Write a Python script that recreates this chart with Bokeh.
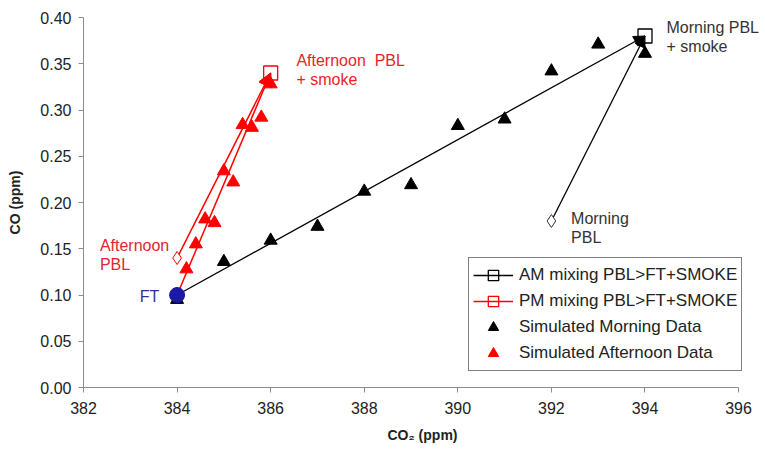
from bokeh.plotting import figure
from bokeh.models import (Range1d, Legend, LegendItem, Arrow, NormalHead, Label,
                          ColumnDataSource, FixedTicker, PrintfTickFormatter)
from bokeh.embed import file_html
from bokeh.resources import INLINE

# ---------------- data ----------------
x_ticks = [382, 384, 386, 388, 390, 392, 394, 396]
y_ticks = [0.00, 0.05, 0.10, 0.15, 0.20, 0.25, 0.30, 0.35, 0.40]

ft_co2 = [384.0]
ft_co = [0.10]

# end members: FT, PBL + smoke, PBL
am_mix_co2 = [384.0, 394.0, 392.0]
am_mix_co = [0.10, 0.38, 0.18]
pm_mix_co2 = [384.0, 386.0, 384.0]
pm_mix_co = [0.10, 0.34, 0.14]

am_sim_co2 = [384, 385, 386, 387, 388, 389, 390, 391, 392, 393, 394]
am_sim_co = [0.095, 0.136, 0.159, 0.174, 0.212, 0.219, 0.283, 0.290, 0.342, 0.371, 0.361]

pm_sim_co2 = [384.0, 384.2, 384.4, 384.6, 384.8, 385.0, 385.2, 385.4, 385.6, 385.8, 386.0]
pm_sim_co = [0.100, 0.128, 0.155, 0.182, 0.178, 0.234, 0.222, 0.284, 0.281, 0.292, 0.328]

FONT = "Liberation Sans"
RED = "#FF0000"
RED_TXT = "#E8232B"
BLUE = "#1A1AA6"

p = figure(width=761, height=447, output_backend="svg", toolbar_location=None,
           x_range=Range1d(382, 396.49), y_range=Range1d(0, 0.40),
           min_border_left=83, min_border_right=0, min_border_top=17, min_border_bottom=60)
p.outline_line_color = None
p.xgrid.visible = False
p.ygrid.visible = False
p.background_fill_color = "white"

for ax in (p.xaxis, p.yaxis):
    ax.axis_line_color = "#8C8C8C"
    ax.major_tick_line_color = "#8C8C8C"
    ax.major_tick_in = 0
    ax.major_tick_out = 5
    ax.minor_tick_line_color = None
    ax.major_label_text_font = FONT
    ax.major_label_text_font_size = "16px"
    ax.major_label_text_color = "#222222"
    ax.axis_label_text_font = FONT
    ax.axis_label_text_font_size = "14px"
    ax.axis_label_text_font_style = "bold"
    ax.axis_label_text_color = "#222222"

p.xaxis.ticker = FixedTicker(ticks=x_ticks)
p.xaxis.bounds = (x_ticks[0], x_ticks[-1])
p.yaxis.ticker = FixedTicker(ticks=y_ticks)
p.yaxis.formatter = PrintfTickFormatter(format="%.2f")
p.xaxis.axis_label = "CO\u2082 (ppm)"
p.yaxis.axis_label = "CO (ppm)"
p.xaxis.major_label_standoff = 9
p.yaxis.major_label_standoff = 7
p.xaxis.axis_label_standoff = 10
p.yaxis.axis_label_standoff = 14


def mixing(xs, ys, color, head_size, lw):
    src = ColumnDataSource(dict(x0=[xs[0], xs[2]], y0=[ys[0], ys[2]],
                                x1=[xs[1], xs[1]], y1=[ys[1], ys[1]]))
    seg = p.segment("x0", "y0", "x1", "y1", source=src, line_color=color, line_width=lw)
    p.add_layout(Arrow(source=src, x_start="x0", y_start="y0", x_end="x1", y_end="y1",
                       line_color=None,
                       end=NormalHead(size=head_size, fill_color=color, line_color=color)))
    return seg


seg_am = mixing(am_mix_co2, am_mix_co, "black", 11, 1.3)
seg_pm = mixing(pm_mix_co2, pm_mix_co, RED, 13, 1.5)

tri_am = p.scatter(am_sim_co2, am_sim_co, marker="triangle", size=13,
                   fill_color="black", line_color="black")
tri_pm = p.scatter(pm_sim_co2, pm_sim_co, marker="triangle", size=13,
                   fill_color=RED, line_color=RED)

sq_am = p.scatter([am_mix_co2[1]], [am_mix_co[1]], marker="square", size=14,
                  fill_color=None, line_color="black", line_width=1.3)
sq_pm = p.scatter([pm_mix_co2[1]], [pm_mix_co[1]], marker="square", size=14,
                  fill_color=None, line_color=RED, line_width=1.3)
p.scatter([am_mix_co2[2]], [am_mix_co[2]], marker="diamond", size=13,
          fill_color="white", line_color="#333333", line_width=1)
p.scatter([pm_mix_co2[2]], [pm_mix_co[2]], marker="diamond", size=13,
          fill_color="white", line_color=RED, line_width=1)

p.scatter(ft_co2, ft_co, marker="circle", size=15, fill_color=BLUE, line_color=BLUE)

# ---------------- annotations ----------------
def lab(x, y, text, color, align="left"):
    p.add_layout(Label(x=x, y=y, text=text, text_color=color, text_font=FONT,
                       text_font_size="16px", text_baseline="middle", text_align=align))

lab(386.55, 0.3535, "Afternoon\u00a0 PBL", RED_TXT)
lab(386.55, 0.333, "+ smoke", RED_TXT)
lab(382.35, 0.1535, "Afternoon", RED_TXT)
lab(382.35, 0.133, "PBL", RED_TXT)
lab(383.62, 0.0987, "FT", "#2E3192", align="right")
lab(394.46, 0.3892, "Morning PBL", "#333333")
lab(394.46, 0.3686, "+ smoke", "#333333")
lab(392.42, 0.1827, "Morning", "#333333")
lab(392.42, 0.162, "PBL", "#333333")

legend = Legend(items=[
    LegendItem(label="AM mixing PBL>FT+SMOKE", renderers=[seg_am, sq_am]),
    LegendItem(label="PM mixing PBL>FT+SMOKE", renderers=[seg_pm, sq_pm]),
    LegendItem(label="Simulated Morning Data", renderers=[tri_am]),
    LegendItem(label="Simulated Afternoon Data", renderers=[tri_pm]),
], location=(385, 16))
legend.label_text_font = FONT
legend.label_text_font_size = "17px"
legend.label_text_color = "#222222"
legend.glyph_width = 40
legend.glyph_height = 26
legend.label_height = 26
legend.label_standoff = 6
legend.spacing = 0
legend.padding = 4
legend.margin = 0
legend.border_line_color = "black"
legend.border_line_width = 1
legend.background_fill_color = "white"
legend.background_fill_alpha = 1
p.add_layout(legend)

open("out.html", "w").write(file_html(p, INLINE))
